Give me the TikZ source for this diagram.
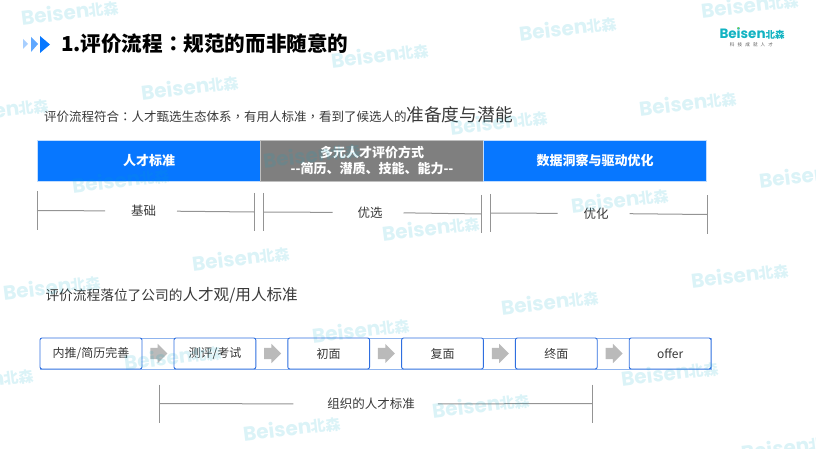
\documentclass[tikz,border=0pt]{standalone}
\usepackage{fontspec}
\setmainfont{Noto Sans CJK SC}
\newfontfamily\wmfont{Poppins}
\newfontfamily\puncfont{Noto Sans CJK TC}
\usepackage{xcolor}
\usetikzlibrary{shapes.arrows,positioning,calc}
\definecolor{barblue}{HTML}{0777FF}
\definecolor{bargray}{HTML}{7F7F7F}
\definecolor{flowblue}{HTML}{2F6FE0}
\definecolor{flowpale}{HTML}{8FB4EE}
\definecolor{teal}{HTML}{12B3C2}
\definecolor{wmteal}{HTML}{00A8C8}

\begin{document}
\begin{tikzpicture}[
    x=1pt, y=-1pt,
    every node/.style={inner sep=0pt, outer sep=0pt, text=black!78},
    bar/.style={minimum width=223pt, minimum height=41pt, fill=barblue, draw=white!75!barblue, line width=.6pt,
        text=white, font=\fontsize{13}{16}\selectfont\bfseries, align=center},
    tick/.style={draw=black!42, line width=1pt},
    label/.style={font=\fontsize{12.5}{14}\selectfont},
    flowbox/.style={draw=flowblue, line width=.9pt, rounded corners=2pt, fill=white, minimum height=31pt,
        minimum width=81.8pt, font=\fontsize{12}{14}\selectfont},
    flowarrow/.style={single arrow, fill=black!27, inner xsep=4pt, inner ysep=5.5pt, minimum height=17pt,
        single arrow head extend=4pt, single arrow tip angle=90, xshift=-2pt},
    wmark/.style={rotate=7, text=wmteal, text opacity=.14, font=\wmfont\bfseries\fontsize{20}{20}\selectfont}
]
    \useasboundingbox (0,0) rectangle (816,449);

    % title
    \fill[white!65!barblue] (23,39) -- (28,44) -- (23,49) -- cycle;
    \fill[white!35!barblue] (31,37) -- (38,44) -- (31,52) -- cycle;
    \fill[barblue] (40,36) -- (50,44.5) -- (40,53) -- cycle;
    \node[anchor=west, text=black, font=\fontsize{20.6}{24}\selectfont\bfseries] (title) at (61,44) {1.评价流程{\puncfont\bfseries ：}规范的而非随意的};

    % logo
    \node[anchor=west, text=teal, font=\wmfont\bfseries\fontsize{13.5}{13}\selectfont] (logo) at (719.5,34) {Beisen\fontspec{Noto Sans CJK SC}\bfseries\fontsize{9.5}{10}\selectfont 北森};
    \fill[yellow!60!green] (738.2,28) circle (.9);
    \node[anchor=north, font=\fontsize{4.6}{5}\selectfont, text=black!65] (slogan) at (751.5,42.5) {科\ \ \ 技\ \ \ 成\ \ \ 就\ \ \ 人\ \ \ 才};

    % upper part
    \node[anchor=west, font=\fontsize{12.5}{15}\selectfont] (intro) at (44,114.5) {评价流程符合{\puncfont ：}人才甄选生态体系{\puncfont ，}有用人标准{\puncfont ，}看到了候选人的\fontsize{17.7}{20}\selectfont 准备度与潜能};

    \node[bar] (standard) at (149,160.5) {人才标准};
    \node[bar, fill=bargray, draw=black!25, right=0pt of standard] (method) {多元人才评价方式\\-{}-简历、潜质、技能、能力-{}-};
    \node[bar, right=0pt of method] (insight) {数据洞察与驱动优化};

    \node[label] (base) at (143.5,211) {基础};
    \node[label] (select) at (370,212.5) {优选};
    \node[label] (optimize) at (596,213.5) {优化};

    \coordinate (base l) at (37,210.5);
    \coordinate (base r) at (254,212);
    \coordinate (select l) at (263,212);
    \coordinate (select r) at (481,214);
    \coordinate (optimize l) at (490,213);
    \coordinate (optimize r) at (707,214.5);
    \foreach \pt in {base l,base r,select l,select r,optimize l,optimize r}
        \draw[tick] ($(\pt)+(0,-19)$) -- ($(\pt)+(0,19)$);
    \draw[tick, shorten >=26pt] (base l) -- (base.west);
    \draw[tick, shorten <=21pt] (base.east) -- (base r);
    \draw[tick, shorten >=25pt] (select l) -- (select.west);
    \draw[tick, shorten <=21pt] (select.east) -- (select r);
    \draw[tick, shorten >=26pt] (optimize l) -- (optimize.west);
    \draw[tick, shorten <=21pt] (optimize.east) -- (optimize r);

    % lower part
    \node[anchor=west, font=\fontsize{13.7}{15}\selectfont] (culture) at (45.5,295) {评价流程落位了公司的\fontsize{15.6}{16}\selectfont 人才观/用人标准};

    \draw[flowpale, line width=.9pt] (40,338) rectangle (711,369.5);
    \node[flowbox, minimum width=102pt] (push) at (91,353.5) {内推/简历完善};
    \node[flowbox, right=32pt of push] (exam) {测评/考试};
    \node[flowbox, right=32pt of exam] (first) {初面};
    \node[flowbox, right=32pt of first] (second) {复面};
    \node[flowbox, right=32pt of second] (final) {终面};
    \node[flowbox, right=32pt of final] (offer) {offer};
    \foreach \a/\b in {push/exam,exam/first,first/second,second/final,final/offer}
        \node[flowarrow] (\a-\b) at ($(\a.east)!.5!(\b.west)$) {};

    \node[label] (people) at (371,404) {组织的人才标准};
    \coordinate (people l) at (159,403.5);
    \coordinate (people r) at (592,403.5);
    \foreach \pt in {people l,people r}
        \draw[tick] ($(\pt)+(0,-19)$) -- ($(\pt)+(0,19)$);
    \draw[tick, shorten >=34pt] (people l) -- (people.west);
    \draw[tick, shorten <=23pt] (people.east) -- (people r);

    % watermark
    \foreach \x/\y [count=\i] in {70/12,380/55,190/87,0/110,568/28,750/5,688/103,499/122,121/180,312/155,
        431/228,620/200,808/175,241/258,740/275,52/287,550/302,361/330,173/357,670/373,-15/380,292/428,481/405,790/447}
        \node[wmark] (wm\i) at (\x,\y) {Beisen\fontspec{Noto Sans CJK SC}\bfseries\fontsize{15}{15}\selectfont 北森};
\end{tikzpicture}
\end{document}
